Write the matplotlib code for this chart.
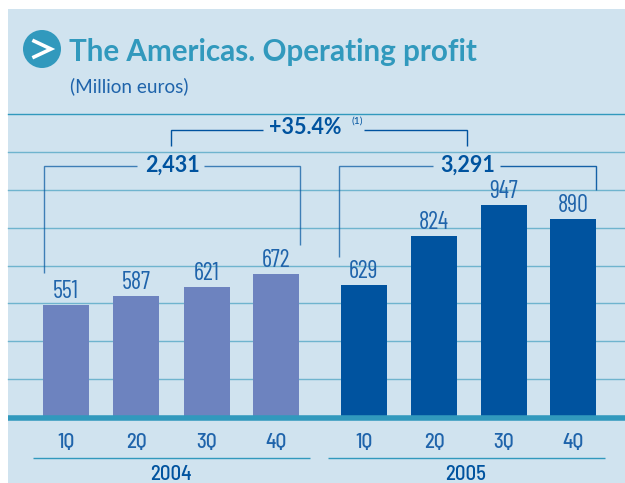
import matplotlib
matplotlib.use("Agg")
import matplotlib.pyplot as plt
from matplotlib.patches import Rectangle, Circle
from matplotlib.lines import Line2D
import logging
logging.getLogger("matplotlib.font_manager").setLevel(logging.ERROR)

quarters = ["1Q", "2Q", "3Q", "4Q"]
years = ["2004", "2005"]
profit_2004 = [551, 587, 621, 672]
profit_2005 = [629, 824, 947, 890]
total_2004 = "2,431"
total_2005 = "3,291"
growth = "+35.4%"

W, H = 625, 483
BG = "#d0e3ef"
TEAL = "#3199bd"
GRID = "#6fb4ce"
NAVY = "#00539f"
LIGHT = "#6d83bf"
TXT = "#1f64ab"

NARROW = ["Barlow Condensed", "Roboto"]
SEMI = ["Barlow Semi Condensed", "Roboto"]
SANS = ["Lato", "Noto Sans"]

fig = plt.figure(figsize=(W / 100, H / 100), dpi=100, facecolor="white")
ax = fig.add_axes([0, 0, 1, 1])
ax.axis("off")
# value axis is truncated: the thick baseline sits at value 107, with 150 units per gridline
base_px, px_per_unit, base_val = 417.0, 0.2525, 107.0
def v(py):
    return base_val + (base_px - py) / px_per_unit
ax.set_xlim(0, W)
ax.set_ylim(v(H), v(0))

def hline(x0, x1, py, color, lw, z=2):
    ax.add_line(Line2D([x0, x1], [v(py), v(py)], color=color, lw=lw, zorder=z, solid_capstyle="butt"))
def poly(xs, pys, color=NAVY, lw=1.0, alpha=1.0):
    ax.add_line(Line2D(xs, [v(p) for p in pys], color=color, lw=lw, alpha=alpha, zorder=5,
                       solid_joinstyle="miter", solid_capstyle="butt"))
def label(x, py, s, **kw):
    ax.text(x, v(py), s, ha=kw.pop("ha", "center"), va=kw.pop("va", "center"), zorder=6, **kw)

ax.add_patch(Rectangle((8, v(H)), W - 8, v(9) - v(H), fc=BG, ec="none", zorder=0))

for i in range(8):
    val = base_val + 150 * (i + 1)
    ax.add_line(Line2D([8, W], [val, val], color=GRID if i < 7 else TEAL, lw=1.0, zorder=1))
hline(8, W, 417.5, TEAL, 4.0, z=4)

centers = {0: [66, 136, 207, 276], 1: [364, 434, 504, 573]}
for yr, vals, col in [(0, profit_2004, LIGHT), (1, profit_2005, NAVY)]:
    ax.bar(centers[yr], [x - base_val for x in vals], bottom=base_val, width=46, color=col, zorder=3)
    for x, val, q in zip(centers[yr], vals, quarters):
        ax.text(x, val + 2 / px_per_unit, str(val), ha="center", va="bottom", color=TXT,
                fontsize=17.5, family=NARROW, zorder=6)
        label(x, 443, q, color=TXT, fontsize=15, family=SEMI, fontweight="medium")

hline(33, 310, 457.5, TEAL, 1.0)
hline(328, 605, 457.5, TEAL, 1.0)
label(171, 474, years[0], color=NAVY, fontsize=15, family=SEMI, fontweight="medium")
label(466, 474, years[1], color=NAVY, fontsize=15, family=SEMI, fontweight="medium")

# brackets
poly([43.5, 43.5, 137], [273, 165.5, 165.5], alpha=.7)
poly([204, 300, 300], [165.5, 165.5, 245], alpha=.7)
poly([339, 339, 433], [257, 165.5, 165.5], alpha=.7)
poly([500, 595.5, 595.5], [165.5, 165.5, 190], alpha=.9)
poly([170.5, 170.5, 263], [146, 130, 130])
poly([364, 467, 467], [130, 130, 146])
label(172, 165, total_2004, color=NAVY, fontsize=15.5, family=SANS, fontweight="bold")
label(468, 165, total_2005, color=NAVY, fontsize=15.5, family=SANS, fontweight="bold")
label(305, 128, growth, color=NAVY, fontsize=15.5, family=SANS, fontweight="bold")
label(357, 121, "(1)", color=NAVY, fontsize=7.5, family=SANS)

# title
cx, cy, r = 42, 49, 19
th = fig.add_axes([(cx - r - 1) / W, 1 - (cy + r + 1) / H, (2 * r + 2) / W, (2 * r + 2) / H])
th.set_xlim(-r - 1, r + 1); th.set_ylim(r + 1, -r - 1); th.axis("off")
th.add_patch(Circle((0, 0), r, fc=TEAL, ec="none"))
th.plot([-8, 9, -8], [-8, 0, 8], color="white", lw=2.6, solid_joinstyle="miter")
label(69, 52, "The Americas. Operating profit", ha="left", color=TEAL, fontsize=21.3, family=SANS, fontweight="bold")
label(70, 86, "(Million euros)", ha="left", color=TXT, fontsize=13.7, family=SANS)

fig.savefig("out.png", dpi=100, facecolor="white")
